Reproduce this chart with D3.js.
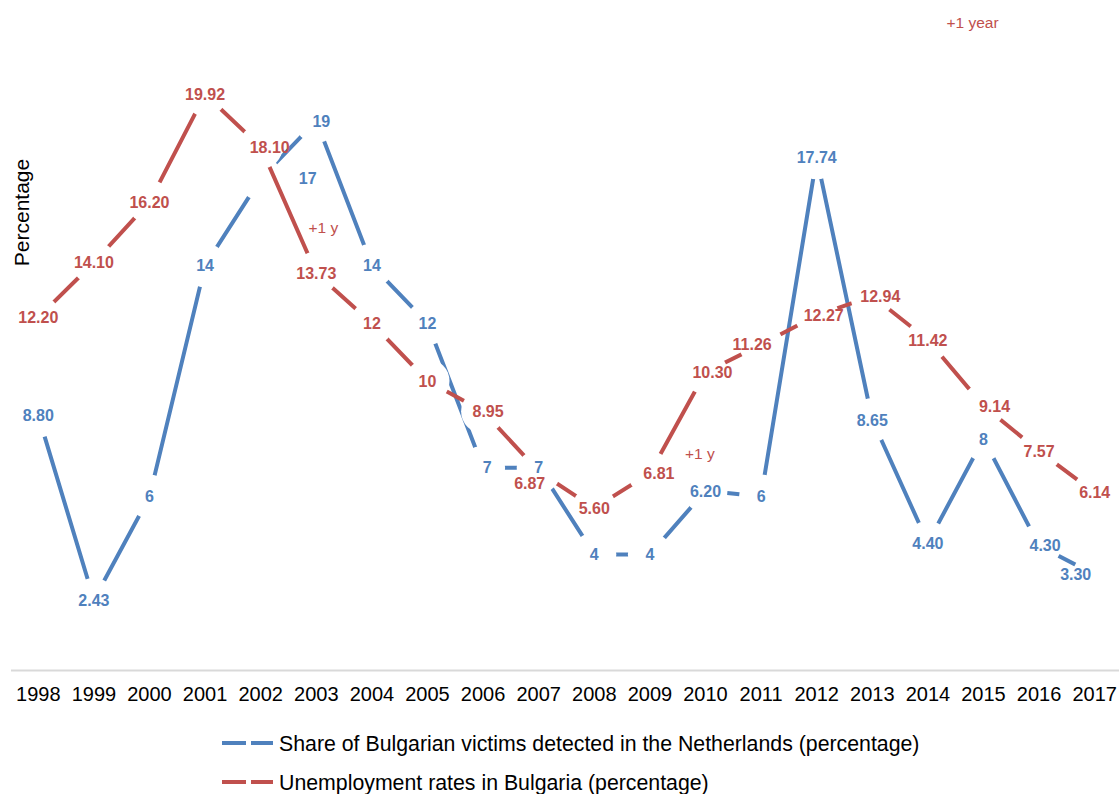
<!DOCTYPE html>
<html>
<head>
<meta charset="utf-8">
<script src="https://cdn.jsdelivr.net/npm/d3@7"></script>
<style>
  html, body { margin: 0; padding: 0; background: #fff; }
  svg { display: block; font-family: "Liberation Sans", Arial, Helvetica, sans-serif; }
</style>
</head>
<body>
<svg id="chart" width="1119" height="794"></svg>
<script>
// Categories
const years = ["1998", "1999", "2000", "2001", "2002", "2003", "2004", "2005", "2006", "2007",
               "2008", "2009", "2010", "2011", "2012", "2013", "2014", "2015", "2016", "2017"];

// Share of Bulgarian victims detected in the Netherlands (%)
const victimsShare = [8.80, 2.43, 6, 14, 17, 19, 14, 12, 7, 7,
                      4, 4, 6.20, 6, 17.74, 8.65, 4.40, 8, 4.30, 3.30];

// Unemployment rate in Bulgaria (%)
const unemploymentRate = [12.20, 14.10, 16.20, 19.92, 18.10, 13.73, 12, 10, 8.95, 6.87,
                          5.60, 6.81, 10.30, 11.26, 12.27, 12.94, 11.42, 9.14, 7.57, 6.14];

// Series names shown in the legend
const seriesNames = [
  "Share of Bulgarian victims detected in the Netherlands (percentage)",
  "Unemployment rates in Bulgaria (percentage)"
];

// Per-label horizontal nudges (px) so overlapping data labels stay readable
const victimsLabelDx = [0, 0, 0, 0, 47, 5, 0, 0, 4, 0, 0, 0, 0, 0, 0, 0, 0, 0, 6, -19];
const unemploymentLabelDx = [0, 0, 0, 0, 9, 0, 0, 0, 5, -9, 0, 9, 7, -9, 7, 8, 0, 11, 0, 0];
const unemploymentLabelDy = [0, 0, 0, 0, 0, 0, 0, 0, 0, 12, 0, 0, 0, 0, 0, 0, 0, 0, 0, 0];

// Lag notes: year the note refers to, value height, text
const lagNotes = [
  { year: "2003", value: 15.3, dx: 7, text: "+1 y" },
  { year: "2009", value: 7.5, dx: 50, text: "+1 y" },
  { year: "2015", value: 22.4, dx: -11, text: "+1 year" }
];

const BLUE = "#4F81BD";
const RED = "#C0504D";
const GAP = 22; // white marker radius that opens the line around each point

const svg = d3.select("#chart");

const x = d3.scaleBand().domain(years).range([10.5, 1122.5]);
const cx = yr => x(yr) + x.bandwidth() / 2;
const y = d3.scaleLinear().domain([0, 22]).range([670, 34.2]);

// Category axis
const axis = svg.append("g")
  .attr("transform", `translate(0,${y(0)})`)
  .call(d3.axisBottom(x).tickSize(0).tickPadding(17));
axis.select(".domain").attr("stroke", "#d9d9d9").attr("stroke-width", 2);
axis.selectAll(".tick text")
  .attr("font-size", 20)
  .attr("font-family", "Liberation Sans, Arial, sans-serif")
  .attr("fill", "#000");

// Y axis title
svg.append("text")
  .attr("transform", "translate(29,212.5) rotate(-90)")
  .attr("text-anchor", "middle")
  .attr("font-size", 21)
  .attr("fill", "#000")
  .text("Percentage");

const plot = svg.append("g");
const line = d3.line().x(d => d[0]).y(d => d[1]);

function drawSeries(values, color) {
  const pts = values.map((v, i) => [cx(years[i]), y(v)]);
  plot.append("path")
    .attr("d", line(pts))
    .attr("fill", "none")
    .attr("stroke", color)
    .attr("stroke-width", 4)
    .attr("stroke-linejoin", "round");
  plot.append("g").selectAll("circle")
    .data(pts)
    .join("circle")
    .attr("cx", d => d[0])
    .attr("cy", d => d[1])
    .attr("r", GAP)
    .attr("fill", "#fff");
}

drawSeries(victimsShare, BLUE);
drawSeries(unemploymentRate, RED);

const fmt = v => Number.isInteger(v) ? String(v) : v.toFixed(2);

function drawLabels(values, color, dxs, dys) {
  plot.append("g").selectAll("text")
    .data(values)
    .join("text")
    .attr("x", (v, i) => cx(years[i]) + (dxs[i] || 0))
    .attr("y", (v, i) => y(v) + ((dys && dys[i]) || 0))
    .attr("dy", "0.36em")
    .attr("text-anchor", "middle")
    .attr("font-size", 16)
    .attr("font-weight", "bold")
    .attr("fill", color)
    .text(fmt);
}

drawLabels(victimsShare, BLUE, victimsLabelDx);
drawLabels(unemploymentRate, RED, unemploymentLabelDx, unemploymentLabelDy);

// Lag notes
plot.append("g").selectAll("text")
  .data(lagNotes)
  .join("text")
  .attr("x", d => cx(d.year) + d.dx)
  .attr("y", d => y(d.value))
  .attr("dy", "0.36em")
  .attr("text-anchor", "middle")
  .attr("font-size", 15.5)
  .attr("fill", RED)
  .text(d => d.text);

// Legend
const legend = svg.append("g");
const legendItems = [
  { name: seriesNames[0], color: BLUE, cy: 743 },
  { name: seriesNames[1], color: RED, cy: 782 }
];
legendItems.forEach(item => {
  [[222, 246], [251, 273]].forEach(([a, b]) => {
    legend.append("line")
      .attr("x1", a).attr("x2", b)
      .attr("y1", item.cy).attr("y2", item.cy)
      .attr("stroke", item.color)
      .attr("stroke-width", 4);
  });
  legend.append("text")
    .attr("x", 279)
    .attr("y", item.cy)
    .attr("dy", "0.36em")
    .attr("font-size", 21.3)
    .attr("fill", "#000")
    .text(item.name);
});
</script>
</body>
</html>
